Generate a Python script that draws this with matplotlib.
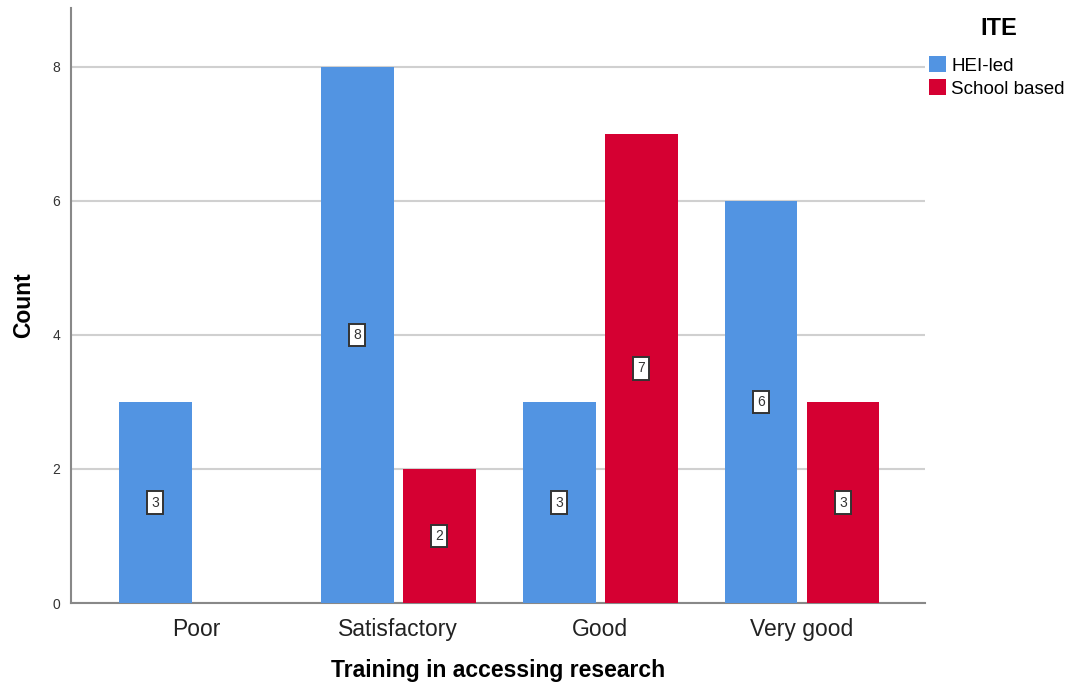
import numpy as np
import matplotlib.pyplot as plt

plt.rcParams['font.family'] = ['Liberation Sans', 'DejaVu Sans']

categories = ['Poor', 'Satisfactory', 'Good', 'Very good']
hei_led = [3, 8, 3, 6]
school_based = [0, 2, 7, 3]
series_names = ['HEI-led', 'School based']
colors = ['#5294E2', '#D50032']

fig = plt.figure(figsize=(10.7, 6.88), dpi=100)
ax = fig.add_axes([0.0664, 0.1235, 0.798, 0.865])

x = np.arange(len(categories))
width = 0.361
offset = (width + 0.045) / 2

for vals, shift, color, name in zip([hei_led, school_based], [-offset, offset], colors, series_names):
    bars = ax.bar(x + shift, vals, width, color=color, label=name, zorder=3)
    for rect, v in zip(bars, vals):
        if v == 0:
            continue
        ax.text(rect.get_x() + rect.get_width() / 2, v / 2, str(v),
                ha='center', va='center', fontsize=10, color='#333333', zorder=4,
                bbox=dict(boxstyle='square,pad=0.3', fc='white', ec='#333333', lw=1.4))

ax.set_xlim(-0.621, 3.609)
ax.set_ylim(0, 8.88)
ax.set_yticks([0, 2, 4, 6, 8])
ax.set_xticks(x)
ax.set_xticklabels(categories, fontsize=16.5, color='#222222')
ax.tick_params(axis='y', length=0, pad=8, labelsize=10, labelcolor='#333333')
ax.tick_params(axis='x', length=0, pad=11)

ax.grid(axis='y', color='#d0d0d0', lw=1.5, zorder=0)
for s in ['top', 'right']:
    ax.spines[s].set_visible(False)
for s in ['left', 'bottom']:
    ax.spines[s].set_color('#888888')
    ax.spines[s].set_linewidth(1.5)

ax.set_ylabel('Count', fontsize=16.5, fontweight='bold', labelpad=12)
ax.set_xlabel('Training in accessing research', fontsize=16.5, fontweight='bold', labelpad=13)

# legend title drawn separately so the gap to the entries can be set
fig.text(0.933, 0.959, 'ITE', ha='center', va='center', fontsize=17, fontweight='bold')
fig.legend(loc='upper left', bbox_to_anchor=(0.868, 0.918), frameon=False,
           fontsize=13.5, handlelength=0.9, handleheight=0.9, handletextpad=0.3,
           labelspacing=0.25, borderaxespad=0, borderpad=0)

fig.savefig('out.png', dpi=100)
